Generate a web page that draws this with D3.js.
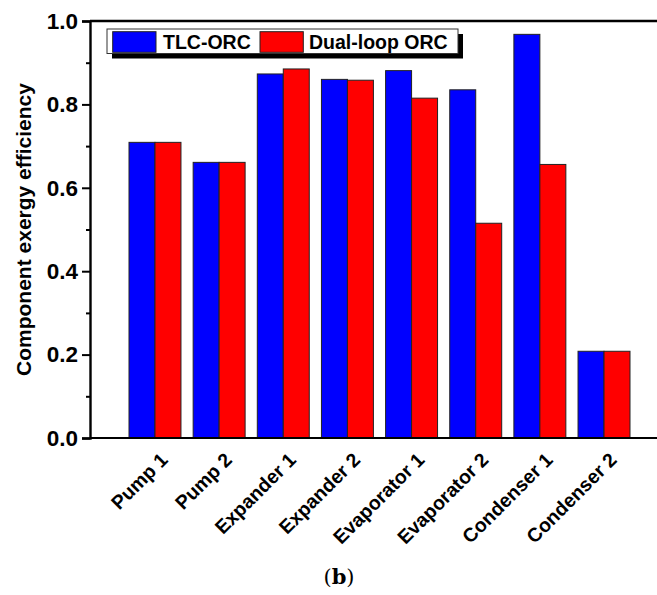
<!DOCTYPE html>
<html>
<head>
<meta charset="utf-8">
<script src="https://cdn.jsdelivr.net/npm/d3@7"></script>
<style>
  html, body { margin: 0; padding: 0; background: #fff; }
  svg { display: block; }
  text { font-family: "Liberation Sans", Arial, sans-serif; font-weight: bold; fill: #000; }
</style>
</head>
<body>
<svg id="chart" width="657" height="595"></svg>
<script>
const categories = ["Pump 1", "Pump 2", "Expander 1", "Expander 2", "Evaporator 1", "Evaporator 2", "Condenser 1", "Condenser 2"];
const seriesNames = ["TLC-ORC", "Dual-loop ORC"];
const tlcValues = [0.709, 0.661, 0.873, 0.860, 0.881, 0.835, 0.968, 0.208];
const dualValues = [0.709, 0.661, 0.885, 0.858, 0.815, 0.515, 0.656, 0.208];
const seriesColors = ["#0000ff", "#ff0000"];
const majorTicks = [0.0, 0.2, 0.4, 0.6, 0.8, 1.0];
const minorTicks = [0.1, 0.3, 0.5, 0.7, 0.9];
const yTitle = "Component exergy efficiency";
const caption = "b";

const svg = d3.select("#chart");
const W = 657, H = 595;
const mLeft = 90, mRight = 669, mTop = 21, mBottom = 438;

const x = d3.scaleBand().domain(categories).range([mLeft, mRight]).paddingInner(0.19).paddingOuter(0.608);
const xs = d3.scaleBand().domain(seriesNames).range([0, x.bandwidth()]).padding(0);
const y = d3.scaleLinear().domain([0, 1]).range([mBottom, mTop]);

const rows = categories.map((c, i) => ({ cat: c, vals: [tlcValues[i], dualValues[i]] }));

// bars
const g = svg.append("g");
rows.forEach(r => {
  r.vals.forEach((v, j) => {
    g.append("rect")
      .attr("x", x(r.cat) + xs(seriesNames[j]))
      .attr("y", y(v))
      .attr("width", xs.bandwidth())
      .attr("height", y(0) - y(v))
      .attr("fill", seriesColors[j])
      .attr("stroke", "#222")
      .attr("stroke-width", 1);
  });
});

// frame lines (top & bottom extend to the right edge)
svg.append("line").attr("x1", mLeft).attr("x2", W).attr("y1", y(1)).attr("y2", y(1)).attr("stroke", "#000").attr("stroke-width", 2.4);
svg.append("line").attr("x1", mLeft).attr("x2", W).attr("y1", y(0)).attr("y2", y(0)).attr("stroke", "#000").attr("stroke-width", 2);

// y axis
const yAxis = d3.axisLeft(y).tickValues(majorTicks).tickFormat(d3.format(".1f")).tickSize(8).tickPadding(4);
const ya = svg.append("g").attr("transform", `translate(${mLeft},0)`).call(yAxis);
ya.select(".domain").attr("stroke", "#000").attr("stroke-width", 2.4);
ya.selectAll(".tick line").attr("stroke", "#000").attr("stroke-width", 2);
ya.selectAll(".tick text").style("font-size", "22.5px").style("font-family", '"Liberation Sans", Arial, sans-serif').style("font-weight", "bold").attr("fill", "#000");
const yMinor = d3.axisLeft(y).tickValues(minorTicks).tickSize(4).tickFormat("");
const ym = svg.append("g").attr("transform", `translate(${mLeft},0)`).call(yMinor);
ym.select(".domain").remove();
ym.selectAll(".tick line").attr("stroke", "#000").attr("stroke-width", 2);

// y title
svg.append("text")
  .attr("transform", `translate(31, ${(y(0) + y(1)) / 2}) rotate(-90)`)
  .attr("text-anchor", "middle")
  .style("font-size", "21px")
  .text(yTitle);

// x labels
const xl = svg.append("g");
categories.forEach(c => {
  const cx = x(c) + x.bandwidth() / 2;
  xl.append("text")
    .attr("transform", `translate(${cx + 14}, 461) rotate(-45)`)
    .attr("text-anchor", "end")
    .style("font-size", "19.5px")
    .text(c);
});

// legend
const lg = svg.append("g");
lg.append("rect").attr("x", 112).attr("y", 34).attr("width", 351).attr("height", 24.5).attr("fill", "#000");
lg.append("rect").attr("x", 107).attr("y", 29).attr("width", 351).attr("height", 24.5).attr("fill", "#fff").attr("stroke", "#333").attr("stroke-width", 1);
const legendItems = [
  { swatch: 112.7, text: 163 },
  { swatch: 260, text: 309 }
];
seriesNames.forEach((s, j) => {
  lg.append("rect").attr("x", legendItems[j].swatch).attr("y", 31.7).attr("width", 43.3).attr("height", 20.6)
    .attr("fill", seriesColors[j]).attr("stroke", "#222").attr("stroke-width", 1);
  lg.append("text").attr("x", legendItems[j].text).attr("y", 49.3).style("font-size", "19.5px").text(s);
});

// caption
const cap = svg.append("text").attr("x", 339).attr("y", 584).attr("text-anchor", "middle")
  .style("font-family", '"DejaVu Serif", "Liberation Serif", serif').style("font-weight", "normal").style("font-size", "21px");
cap.append("tspan").style("font-weight", "normal").text("(");
cap.append("tspan").style("font-weight", "bold").text(caption);
cap.append("tspan").style("font-weight", "normal").text(")");
</script>
</body>
</html>
